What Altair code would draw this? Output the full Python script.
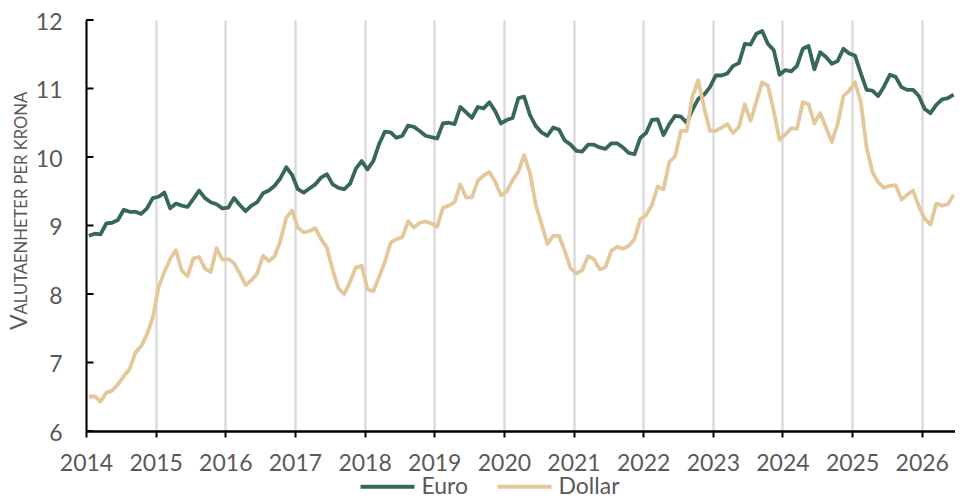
import altair as alt
import pandas as pd

# Monthly observations, Jan 2014 - Jun 2026
start_year = 2014
euro = [
    8.85, 8.88, 8.87, 9.03, 9.04, 9.08, 9.23, 9.20, 9.20, 9.17, 9.25, 9.40,
    9.42, 9.48, 9.25, 9.32, 9.29, 9.27, 9.39, 9.51, 9.40, 9.34, 9.31, 9.25,
    9.26, 9.40, 9.30, 9.21, 9.29, 9.34, 9.47, 9.51, 9.58, 9.69, 9.85, 9.74,
    9.53, 9.48, 9.54, 9.60, 9.70, 9.75, 9.60, 9.55, 9.53, 9.61, 9.83, 9.94,
    9.82, 9.94, 10.19, 10.37, 10.36, 10.28, 10.31, 10.46, 10.44, 10.38, 10.31, 10.29,
    10.27, 10.49, 10.50, 10.48, 10.73, 10.65, 10.57, 10.73, 10.71, 10.80, 10.67, 10.49,
    10.54, 10.57, 10.86, 10.88, 10.61, 10.45, 10.36, 10.31, 10.43, 10.40, 10.24, 10.18,
    10.09, 10.08, 10.18, 10.18, 10.14, 10.12, 10.20, 10.20, 10.14, 10.06, 10.04, 10.28,
    10.35, 10.54, 10.55, 10.32, 10.48, 10.60, 10.59, 10.50, 10.69, 10.85, 10.91, 11.02,
    11.19, 11.19, 11.22, 11.33, 11.37, 11.65, 11.64, 11.80, 11.84, 11.65, 11.56, 11.20,
    11.27, 11.25, 11.33, 11.58, 11.62, 11.28, 11.53, 11.46, 11.36, 11.40, 11.58, 11.51,
    11.48, 11.22, 10.98, 10.97, 10.89, 11.03, 11.20, 11.17, 11.02, 10.98, 10.98, 10.89,
    10.70, 10.64, 10.76, 10.84, 10.86, 10.91,
]
dollar = [
    6.50, 6.51, 6.43, 6.56, 6.59, 6.68, 6.80, 6.90, 7.14, 7.24, 7.41, 7.65,
    8.10, 8.32, 8.51, 8.64, 8.34, 8.26, 8.52, 8.54, 8.37, 8.32, 8.67, 8.50,
    8.51, 8.45, 8.30, 8.13, 8.20, 8.30, 8.56, 8.48, 8.55, 8.78, 9.11, 9.22,
    8.97, 8.90, 8.92, 8.96, 8.80, 8.68, 8.35, 8.08, 8.00, 8.18, 8.39, 8.41,
    8.07, 8.04, 8.25, 8.47, 8.75, 8.80, 8.83, 9.06, 8.97, 9.04, 9.06, 9.03,
    8.98, 9.26, 9.29, 9.34, 9.60, 9.41, 9.41, 9.65, 9.73, 9.78, 9.64, 9.44,
    9.50, 9.66, 9.79, 10.03, 9.76, 9.30, 9.02, 8.73, 8.85, 8.85, 8.63, 8.37,
    8.30, 8.35, 8.55, 8.51, 8.36, 8.39, 8.63, 8.69, 8.66, 8.70, 8.80, 9.09,
    9.15, 9.30, 9.57, 9.53, 9.93, 10.01, 10.38, 10.38, 10.89, 11.12, 10.72, 10.38,
    10.38, 10.43, 10.48, 10.35, 10.44, 10.77, 10.53, 10.81, 11.09, 11.04, 10.67, 10.25,
    10.33, 10.42, 10.41, 10.80, 10.77, 10.49, 10.64, 10.43, 10.22, 10.48, 10.89, 10.97,
    11.09, 10.80, 10.14, 9.78, 9.63, 9.55, 9.58, 9.59, 9.38, 9.45, 9.51, 9.28,
    9.10, 9.01, 9.32, 9.29, 9.31, 9.45,
]
series_names = ["Euro", "Dollar"]
series_colors = ["#37675a", "#e3c89b"]
year_ticks = list(range(2014, 2027))
y_ticks = [6, 7, 8, 9, 10, 11, 12]
title_first = ["V"]
title_rest = ["ALUTAENHETER PER KRONA"]

# mid-month position in decimal years
t = [start_year + (i + 0.5) / 12 for i in range(len(euro))]
df = pd.concat([
    pd.DataFrame({"t": t, "value": euro, "series": "Euro"}),
    pd.DataFrame({"t": t, "value": dollar, "series": "Dollar"}),
], ignore_index=True)

FONT = "Lato"
GRAY = "#595959"

xscale = alt.Scale(domain=[2014, 2026.47], nice=False, zero=False)
yscale = alt.Scale(domain=[6, 12], nice=False, zero=False)

color = alt.Color(
    "series:N",
    scale=alt.Scale(domain=series_names, range=series_colors),
    sort=series_names,
    legend=alt.Legend(
        title=None, orient="none", direction="horizontal",
        legendX=272, legendY=437, symbolType="stroke",
        symbolSize=2916, symbolStrokeWidth=4.2, labelFontSize=23,
        labelFont=FONT, labelColor=GRAY, labelOffset=4.5,
        columnPadding=20, padding=0,
    ),
)

xenc = alt.X(
    "t:Q", scale=xscale, title=None,
    axis=alt.Axis(
        values=year_ticks, format="d", labelFont=FONT, labelFontSize=23,
        labelColor=GRAY, labelPadding=15, tickSize=6, tickColor="black",
        tickWidth=2, domainColor="black", domainWidth=2.5, grid=True,
        gridColor="#d9d9d9", gridWidth=2.3, labelFlush=False, labelOverlap=False,
    ),
)
yenc = alt.Y(
    "value:Q", scale=yscale, title=None,
    axis=alt.Axis(
        values=y_ticks, format="d", labelFont=FONT, labelFontSize=23,
        labelColor=GRAY, ticks=False, tickSize=0, labelPadding=24,
        labelOffset=2, domainColor="black", domainWidth=2, grid=False,
    ),
)

base = alt.Chart(df)
euro_line = base.transform_filter(alt.datum.series == "Euro").mark_line(
    strokeWidth=3.8, strokeJoin="round"
).encode(x=xenc, y=yenc, color=color)
dollar_line = base.transform_filter(alt.datum.series == "Dollar").mark_line(
    strokeWidth=3.8, strokeJoin="round"
).encode(x=xenc, y=yenc, color=color)

ticks = alt.Chart(pd.DataFrame({"v": y_ticks})).mark_rule(
    color="black", strokeWidth=2
).encode(y=alt.Y("v:Q", scale=yscale, title=None), x=alt.value(0), x2=alt.value(7.5))

title1 = alt.Chart(pd.DataFrame({"s": title_first})).mark_text(
    angle=270, align="left", baseline="alphabetic", font=FONT,
    fontSize=23, color=GRAY,
).encode(text="s:N", x=alt.value(-59.3), y=alt.value(310))
title2 = alt.Chart(pd.DataFrame({"s": title_rest})).mark_text(
    angle=270, align="left", baseline="alphabetic", font=FONT,
    fontSize=16.6, color=GRAY,
).encode(text="s:N", x=alt.value(-59.3), y=alt.value(294.4))

chart = alt.layer(euro_line, dollar_line, ticks, title1, title2).properties(
    width=868.5, height=411,
    autosize=alt.AutoSizeParams(type="none"),
    padding={"left": 78, "top": 12, "right": 0, "bottom": 65},
).configure_view(stroke=None)

chart.save("out.html", embed_options={"renderer": "svg", "actions": False})
